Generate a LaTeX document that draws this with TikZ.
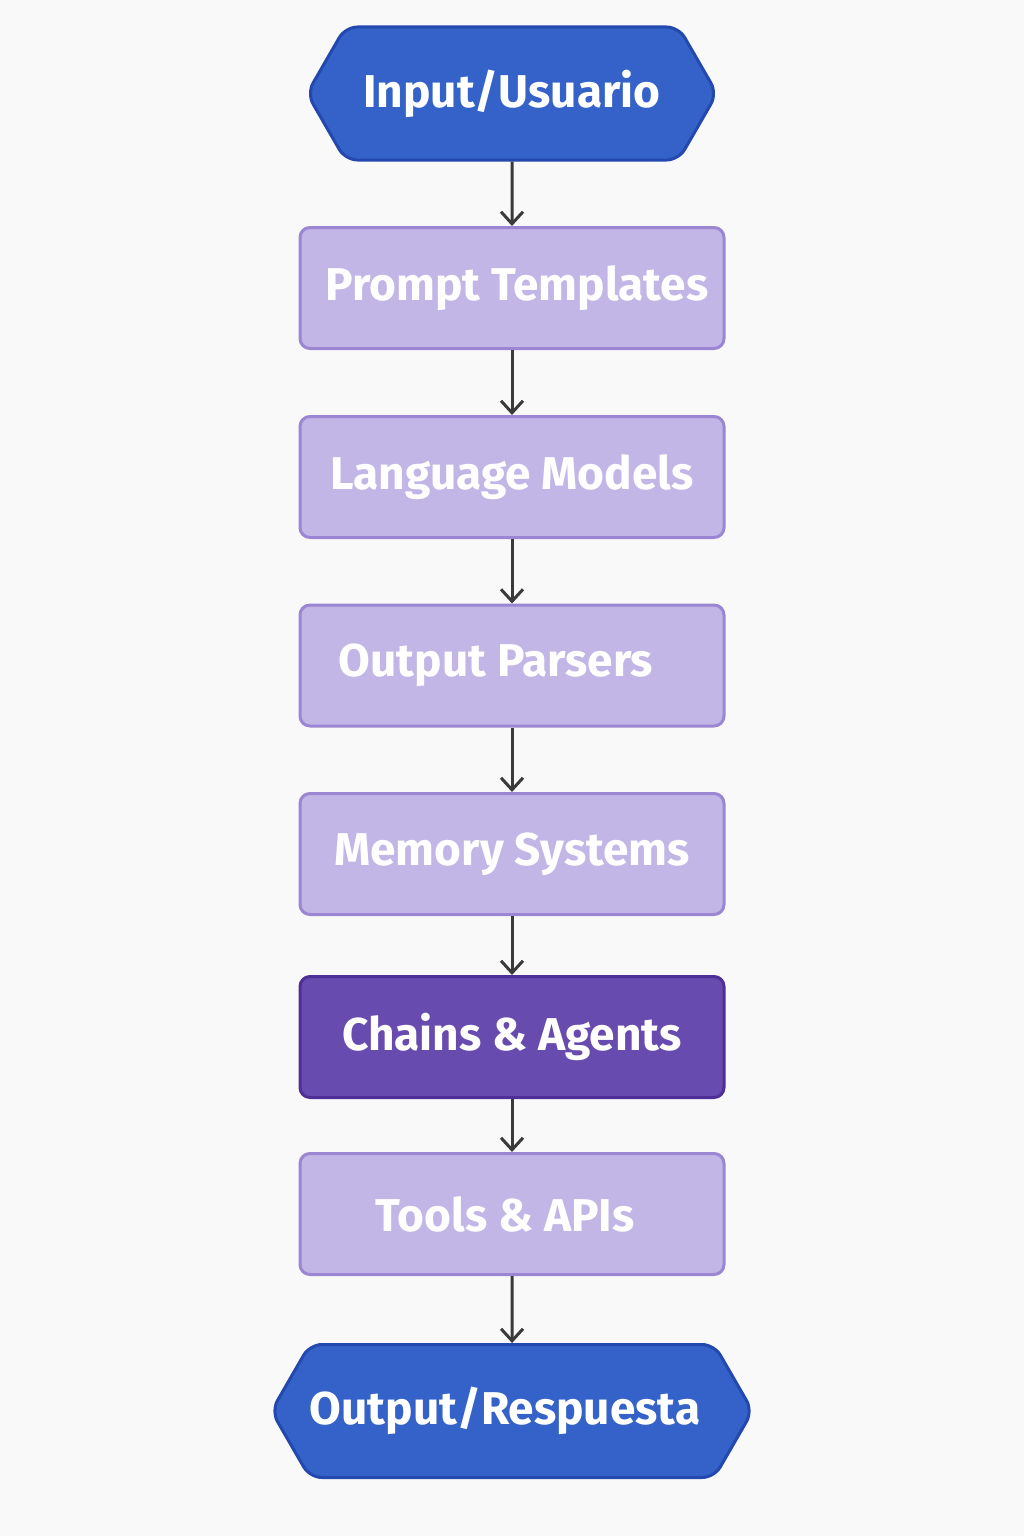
\documentclass[tikz,border=0pt]{standalone}
\usepackage{fontspec}
\setmainfont{Fira Sans}
\usetikzlibrary{shapes.symbols,arrows.meta}
\definecolor{hexfill}{HTML}{3462C8}
\definecolor{hexline}{HTML}{2348AE}
\definecolor{boxfill}{HTML}{C2B6E7}
\definecolor{boxline}{HTML}{9A86D2}
\definecolor{keyfill}{HTML}{684BAF}
\definecolor{keyline}{HTML}{4E2F98}
\definecolor{arrline}{HTML}{3A3A3A}
\definecolor{bg}{HTML}{F9F9F9}
\tikzset{
  lbl/.style={text=white, font=\fontsize{23}{28}\selectfont\bfseries},
  endhex/.style={lbl, shape=signal, signal to=west and east, signal pointer angle=120,
    fill=hexfill, draw=hexline, line width=1.5pt, rounded corners=6pt,
    minimum height=66.5pt, inner sep=0pt},
  stage/.style={lbl, rectangle, fill=boxfill, draw=boxline, line width=1.5pt,
    rounded corners=5pt, minimum width=212pt, minimum height=60.5pt, inner sep=0pt},
  keystage/.style={stage, fill=keyfill, draw=keyline},
  arr/.style={draw=arrline, line width=1.5pt, -{Straight Barb[length=6pt,width=11pt,line width=1.5pt]}}
}
\begin{document}
\begin{tikzpicture}[x=0.5pt,y=-0.5pt]
    \fill[bg] (0,0) rectangle (1024,1536);
    \useasboundingbox (0,0) rectangle (1024,1536);
    \node[endhex, minimum width=205pt] (in) at (512,93.5) {Input/Usuario};
    \node[stage] (prompt) at (512,288) {\hspace*{5pt}Prompt Templates};
    \node[stage] (model) at (512,477) {Language Models};
    \node[stage] (parser) at (512,665.5) {Output Parsers\hspace*{16pt}};
    \node[stage] (memory) at (512,854) {Memory Systems};
    \node[keystage] (chain) at (512,1037) {Chains \& Agents};
    \node[stage] (tool) at (512,1214) {Tools \& APIs\hspace*{7pt}};
    \node[endhex, minimum width=238pt] (out) at (512,1411) {Output/Respuesta\hspace*{7pt}};
    \draw[arr] (in) -- (prompt);
    \draw[arr] (prompt) -- (model);
    \draw[arr] (model) -- (parser);
    \draw[arr] (parser) -- (memory);
    \draw[arr] (memory) -- (chain);
    \draw[arr] (chain) -- (tool);
    \draw[arr] (tool) -- (out);
\end{tikzpicture}
\end{document}
